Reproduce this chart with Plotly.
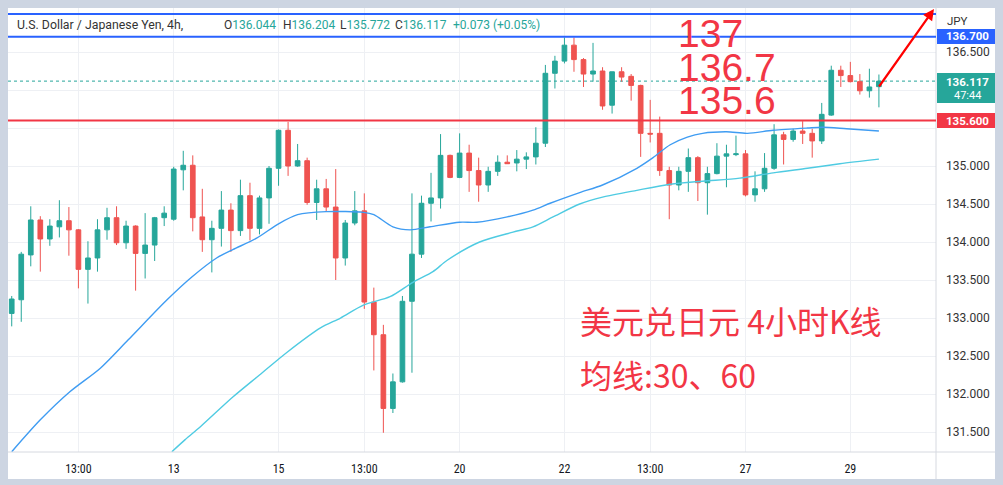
import plotly.graph_objects as go

# ---------------- data ----------------
opens = [133.06, 133.24, 133.83, 134.29, 134.04, 134.20, 134.28, 134.16, 133.64, 133.79,
         134.16, 134.32, 133.99, 134.21, 133.85, 133.96, 134.32, 134.30, 134.95, 135.01,
         134.33, 134.03, 134.18, 134.42, 134.15, 134.61, 134.18, 134.58, 134.97, 135.47,
         135.00, 135.07, 134.52, 134.70, 134.46, 133.79, 134.25, 134.41, 133.21, 132.78,
         131.81, 132.16, 133.22, 133.84, 134.51, 134.58, 135.14, 134.85, 135.17, 134.94,
         134.75, 134.93, 135.05, 135.04, 135.09, 135.12, 135.30, 136.22, 136.38, 136.59,
         136.40, 136.21, 136.25, 135.80, 136.24, 136.18, 136.06, 135.43, 135.43, 134.94,
         134.75, 134.93, 135.11, 134.78, 134.90, 135.13, 135.15, 135.16, 134.62, 134.70,
         134.97, 135.41, 135.35, 135.46, 135.43, 135.33, 135.67, 136.26, 136.19, 136.11,
         135.99, 136.044]
highs = [133.29, 133.87, 134.47, 134.34, 134.30, 134.55, 134.46, 134.17, 134.01, 134.30,
         134.45, 134.47, 134.28, 134.22, 134.38, 134.33, 134.47, 134.99, 135.20, 135.14,
         134.70, 134.28, 134.67, 134.51, 134.82, 134.78, 134.61, 135.00, 135.48, 135.58,
         135.29, 135.11, 134.82, 134.83, 134.96, 134.29, 134.67, 134.64, 133.40, 132.91,
         132.27, 133.29, 134.64, 134.61, 134.91, 135.42, 135.15, 135.43, 135.28, 135.11,
         134.99, 135.14, 135.14, 135.21, 135.18, 135.51, 136.33, 136.45, 136.69, 136.69,
         136.42, 136.62, 136.30, 136.24, 136.30, 136.21, 136.07, 135.87, 135.65, 134.99,
         134.99, 135.23, 135.13, 134.99, 135.30, 135.28, 135.40, 135.21, 134.93, 135.17,
         135.55, 135.45, 135.49, 135.59, 135.49, 135.83, 136.32, 136.32, 136.37, 136.21,
         136.28, 136.204]
lows = [132.89, 132.95, 133.68, 133.61, 133.95, 134.06, 133.82, 133.39, 133.19, 133.61,
        134.03, 133.96, 133.91, 133.36, 133.52, 133.75, 134.21, 134.28, 134.68, 134.14,
        133.87, 133.60, 133.94, 133.87, 134.08, 134.02, 134.10, 134.24, 134.74, 134.87,
        134.99, 134.49, 134.29, 134.40, 133.50, 133.69, 134.22, 133.12, 132.31, 131.49,
        131.75, 132.15, 132.28, 133.79, 134.27, 134.44, 134.84, 134.84, 134.66, 134.53,
        134.66, 134.87, 135.03, 134.93, 134.96, 135.02, 135.25, 136.02, 136.35, 136.24,
        136.04, 136.11, 135.74, 135.69, 136.11, 135.86, 135.12, 135.31, 134.87, 134.30,
        134.68, 134.66, 134.54, 134.36, 134.89, 134.72, 135.13, 134.60, 134.53, 134.66,
        134.95, 135.02, 135.32, 135.29, 135.11, 135.29, 135.66, 136.04, 136.10, 135.94,
        135.90, 135.772]
closes = [133.25, 133.84, 134.29, 134.04, 134.21, 134.28, 134.16, 133.64, 133.79, 134.16,
          134.32, 133.99, 134.21, 133.85, 133.96, 134.32, 134.38, 134.96, 135.01, 134.32,
          134.03, 134.18, 134.42, 134.15, 134.61, 134.18, 134.58, 134.97, 135.47, 135.00,
          135.07, 134.52, 134.70, 134.46, 133.79, 134.25, 134.41, 133.21, 132.78, 131.81,
          132.16, 133.22, 133.84, 134.51, 134.58, 135.14, 134.85, 135.17, 134.94, 134.75,
          134.93, 135.05, 135.03, 135.09, 135.12, 135.30, 136.22, 136.38, 136.59, 136.40,
          136.21, 136.25, 135.79, 136.24, 136.17, 136.06, 135.43, 135.42, 134.94, 134.75,
          134.93, 135.11, 134.78, 134.90, 135.13, 135.16, 135.16, 134.62, 134.70, 134.97,
          135.41, 135.35, 135.46, 135.43, 135.33, 135.68, 136.26, 136.19, 136.11, 135.99,
          136.04, 136.117]
candle_idx = list(range(len(opens)))

# moving averages read at sample positions (candle index, price)
ma30_x = [0, 3, 6.1, 9.3, 12.2, 16.3, 18.9, 21.5, 23.2, 25.7, 28, 30, 33, 36.9, 38, 40,
          41.8, 43.9, 47, 48.8, 52, 54.7, 56.5, 59.6, 62, 65.6, 67.3, 69.1, 70.9, 72.5,
          75, 77.2, 79.9, 83.5, 85.1, 87.6, 91]
ma30_y = [131.24, 131.66, 132.03, 132.34, 132.71, 133.24, 133.54, 133.79, 133.90, 134.05,
          134.24, 134.36, 134.40, 134.39, 134.36, 134.20, 134.16, 134.20, 134.26, 134.26,
          134.33, 134.42, 134.51, 134.65, 134.75, 134.97, 135.11, 135.28, 135.38, 135.43,
          135.45, 135.43, 135.47, 135.50, 135.51, 135.49, 135.46]
ma60_x = [16.8, 18.2, 19.8, 23.2, 26, 28.9, 32.4, 34.5, 36.9, 39.7, 42.1, 44.2, 45.7,
          49.1, 52.6, 54.7, 56.8, 59.6, 62, 65.6, 69.1, 72.5, 76.4, 79.9, 83.5, 86.9, 91]
ma60_y = [131.24, 131.40, 131.57, 131.96, 132.25, 132.55, 132.87, 133.00, 133.17, 133.28,
          133.47, 133.61, 133.76, 134.00, 134.13, 134.20, 134.33, 134.50, 134.59, 134.68,
          134.76, 134.80, 134.84, 134.91, 134.97, 135.03, 135.09]

# horizontal levels
level_blue = [137.0, 136.7]
level_red = 135.6
last_price = 136.117

# axis ticks (136.000 and 135.500 are hidden behind price tags in the reference)
x_tickvals = [7, 17, 28, 37, 47, 58, 67, 77, 88]
x_ticktext = ["13:00", "13", "15", "13:00", "20", "22", "13:00", "27", "29"]
y_tickvals = [131.5, 132.0, 132.5, 133.0, 133.5, 134.0, 134.5, 135.0, 135.5, 136.0, 136.5]
y_hidden = [135.5, 136.0]
y_ticktext = ["" if v in y_hidden else f"{v:.3f}" for v in y_tickvals]

# ---------------- styling ----------------
GREEN = "#26a69a"
RED = "#ef5350"
LINE_RED = "#f23645"
BLUE = "#2962ff"
FRAME = "#cdd5e2"
OFF = 8                      # page body margin (figure starts at 8,8 on screen)
W, H = 1003 - OFF, 485 - OFF
PL, PR, PT, PB = 8, 936, 8, 452   # plot area in screen pixels


def px(x):
    return (x - PL) / (PR - PL)


def py(y):
    return (PB - y) / (PB - PT)


fig = go.Figure()
fig.add_trace(go.Candlestick(
    x=candle_idx, open=opens, high=highs, low=lows, close=closes,
    increasing=dict(line=dict(color=GREEN, width=1), fillcolor=GREEN),
    decreasing=dict(line=dict(color=RED, width=1), fillcolor=RED),
    whiskerwidth=0, showlegend=False, hoverinfo="skip"))
fig.add_trace(go.Scatter(x=ma30_x, y=ma30_y, mode="lines",
                         line=dict(color="#3f9cf2", width=1.4, shape="spline", smoothing=0.8),
                         showlegend=False, hoverinfo="skip"))
fig.add_trace(go.Scatter(x=ma60_x, y=ma60_y, mode="lines",
                         line=dict(color="#4fcbe2", width=1.4, shape="spline", smoothing=0.8),
                         showlegend=False, hoverinfo="skip"))

shapes = []
# white chart card on grey frame
shapes.append(dict(type="rect", xref="paper", yref="paper", x0=px(8), x1=px(999),
                   y0=py(479), y1=py(8), fillcolor="white", line=dict(width=0), layer="below"))
# separators
shapes.append(dict(type="line", xref="paper", yref="paper", x0=1, x1=1, y0=py(479), y1=py(8),
                   line=dict(color="#d6d9e0", width=1), layer="above"))
shapes.append(dict(type="line", xref="paper", yref="paper", x0=0, x1=px(999), y0=0, y1=0,
                   line=dict(color="#d6d9e0", width=1), layer="above"))
# last price dotted line
shapes.append(dict(type="line", xref="paper", yref="y", x0=0, x1=1, y0=last_price, y1=last_price,
                   line=dict(color=GREEN, width=1, dash="dot"), layer="between"))
for lv in level_blue:
    shapes.append(dict(type="line", xref="paper", yref="y", x0=0, x1=1, y0=lv, y1=lv,
                       line=dict(color=BLUE, width=2), layer="above"))
shapes.append(dict(type="line", xref="paper", yref="y", x0=0, x1=1, y0=level_red, y1=level_red,
                   line=dict(color=LINE_RED, width=2), layer="above"))
# price tags on the axis
shapes.append(dict(type="rect", xref="paper", yref="paper", x0=px(937), x1=px(998),
                   y0=py(44), y1=py(29), fillcolor=BLUE, line=dict(width=0), layer="above"))
shapes.append(dict(type="rect", xref="paper", yref="paper", x0=px(937), x1=px(998),
                   y0=py(103), y1=py(73), fillcolor=GREEN, line=dict(width=0), layer="above"))
shapes.append(dict(type="rect", xref="paper", yref="paper", x0=px(937), x1=px(998),
                   y0=py(128), y1=py(113), fillcolor=LINE_RED, line=dict(width=0), layer="above"))

ann = []


def text(x, y, s, size=12, color="#131722", xanchor="left", family="Roboto, Arial", bold=False):
    if bold:
        s = f"<b>{s}</b>"
    ann.append(dict(xref="paper", yref="paper", x=px(x), y=py(y), text=s, showarrow=False,
                    xanchor=xanchor, yanchor="middle", font=dict(size=size, color=color, family=family)))


# header
text(15, 25, "U.S. Dollar / Japanese Yen, 4h,", 12.3, "#333333")
for xx, lab, val in [(222, "O", "136.044"), (281, "H", "136.204"),
                     (338, "L", "135.772"), (393, "C", "136.117")]:
    ann.append(dict(xref="paper", yref="paper", x=px(xx), y=py(25),
                    text=f"<span style='color:#333333'>{lab}</span>{val}", showarrow=False,
                    xanchor="left", yanchor="middle",
                    font=dict(size=12, color=GREEN, family="Roboto, Arial")))
text(451, 25, "+0.073 (+0.05%)", 12, GREEN)

# axis tag texts
text(945, 21, "JPY", 11.5, "#333333")
text(967, 36.5, "136.700", 11.5, "white", "center", bold=True)
text(967, 82, "136.117", 11.5, "white", "center", bold=True)
text(967, 95, "47:44", 11, "white", "center")
text(967, 120.5, "135.600", 11.5, "white", "center", bold=True)

# big red labels
for yy, s in [(34, "137"), (68, "136.7"), (101, "135.6")]:
    text(676, yy, s, 39, LINE_RED, family="Liberation Sans, Arial")

text(578, 320, "美元兑日元 4小时K线", 32, LINE_RED, family="Noto Sans CJK SC")
text(578, 374, "均线:30、60", 32, LINE_RED, family="Noto Sans CJK SC")

# arrow
ann.append(dict(xref="paper", yref="paper", x=px(934), y=py(9), ax=-56, ay=79,
                showarrow=True, arrowhead=2, arrowsize=1, arrowwidth=2.2,
                arrowcolor="#ff0000", text=""))

fig.update_layout(
    width=W, height=H, autosize=False,
    margin=dict(l=PL - OFF, r=(W + OFF) - PR, t=PT - OFF, b=(H + OFF) - PB),
    paper_bgcolor=FRAME, plot_bgcolor="white",
    shapes=shapes, annotations=ann,
    xaxis=dict(range=[-0.39, 96.99], tickvals=x_tickvals, ticktext=x_ticktext,
               showgrid=True, gridcolor="#eef0f4", gridwidth=1, zeroline=False,
               showline=False, ticks="", rangeslider=dict(visible=False),
               tickfont=dict(size=12, color="#131722", family="Liberation Sans Narrow, Roboto Condensed, Arial"),
               ticklabelstandoff=8, fixedrange=True),
    yaxis=dict(range=[131.237, 137.079], side="right", tickvals=y_tickvals, ticktext=y_ticktext,
               showgrid=True, gridcolor="#eef0f4", gridwidth=1, zeroline=False,
               showline=False, ticks="", ticklabelstandoff=9,
               tickfont=dict(size=12, color="#333333", family="Roboto, Arial"), fixedrange=True),
    hovermode=False,
)

fig.write_html("out.html", post_script=f"document.body.style.background='{FRAME}';")
